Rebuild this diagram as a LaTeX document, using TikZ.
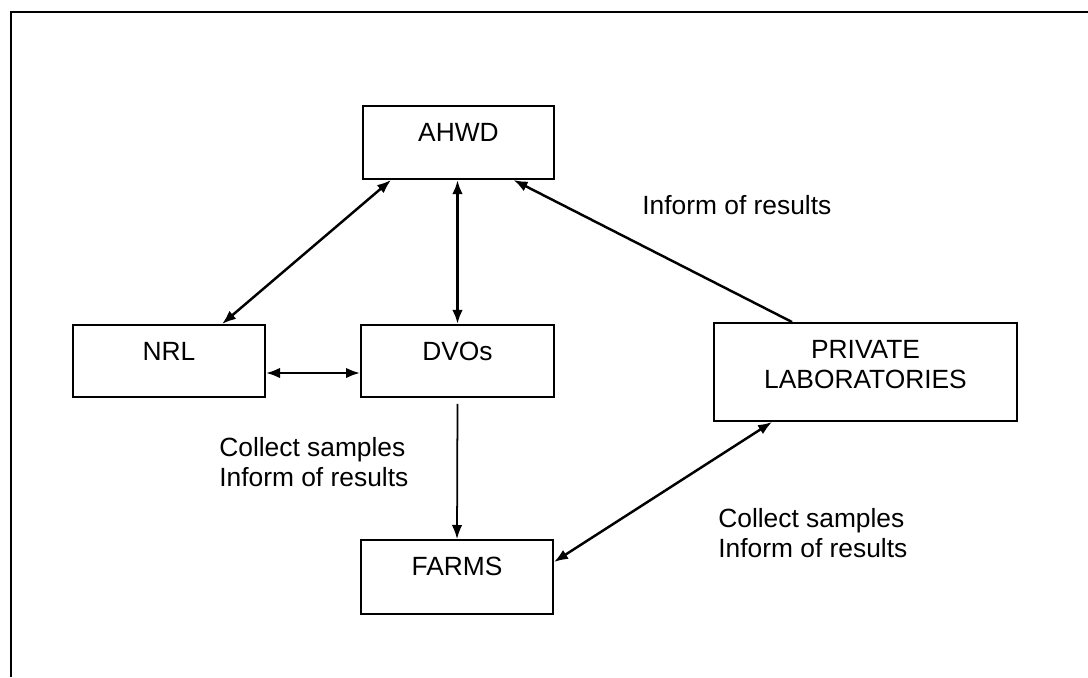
\documentclass[tikz,border=0pt]{standalone}
\usepackage{fontspec}
\setmainfont{Liberation Sans}
\usetikzlibrary{calc, arrows.meta}

\newcommand{\boxlines}[3]{\parbox[c][#2][t]{#1}{\centering\vspace*{9.9pt}#3}}

\begin{document}
\begin{tikzpicture}[> = {Latex[length = 8pt, width = 6pt]}, x = 0.02cm, y = -0.02cm, font = \fontsize{15pt}{17pt}\selectfont]

	% Styles
	
	\tikzset{
		box/.style = {draw, line width = 1.1pt, inner sep = 0pt},
		link/.style = {line width = 1.4pt},
		note/.style = {inner sep = 0pt, anchor = west, align = left}
	}

	% Page and frame
	
	\useasboundingbox (0, 0) rectangle (1088, 677);
	\draw [line width = 1.1pt] (1088, 12) -- (11, 12) -- (11, 677);
	
	% Boxes
	
	\node [box] (ahwd) at (458.5, 142.5) {\boxlines{3.82cm}{1.46cm}{AHWD}};
	\node [box] (nrl) at (169, 361) {\boxlines{3.84cm}{1.44cm}{NRL}};
	\node [box] (dvos) at (457.5, 361) {\boxlines{3.86cm}{1.44cm}{DVOs}};
	\node [box] (labs) at (865.5, 372) {\boxlines{6.06cm}{1.96cm}{PRIVATE\\LABORATORIES}};
	\node [box] (farms) at (457, 577) {\boxlines{3.84cm}{1.48cm}{FARMS}};
	
	% Notes
	
	\node [note] (top note) at (642, 205) {Inform of results};
	\node [note] (dvos note) at (219, 462) {Collect samples\\Inform of results};
	\node [note] (labs note) at (718, 533) {Collect samples\\Inform of results};
	
	% AHWD with NRL, DVOs and private laboratories
	
	\draw [<->, link] ($(ahwd.south west) + (29, 0)$) -- ($(nrl.north) + (53, 0)$);
	\draw [<->, link, line width = 1.6pt] (ahwd.south -| dvos.north) -- (dvos.north);
	\draw [->, link] ($(labs.north west) + (79, 0)$) -- ($(ahwd.south) + (55, 0)$);
	
	% NRL with DVOs
	
	\draw [<->, link] ($(nrl.east) + (0, 12)$) -- ($(dvos.west) + (0, 12)$);
	
	% Farms
	
	\draw [->, line width = 1pt] ($(dvos.south) + (0, 6)$) -- (farms.north);
	\draw [<->, link] ($(labs.south west) + (59, 0)$) -- ($(farms.north east) + (0, 23)$);

\end{tikzpicture}
\end{document}
